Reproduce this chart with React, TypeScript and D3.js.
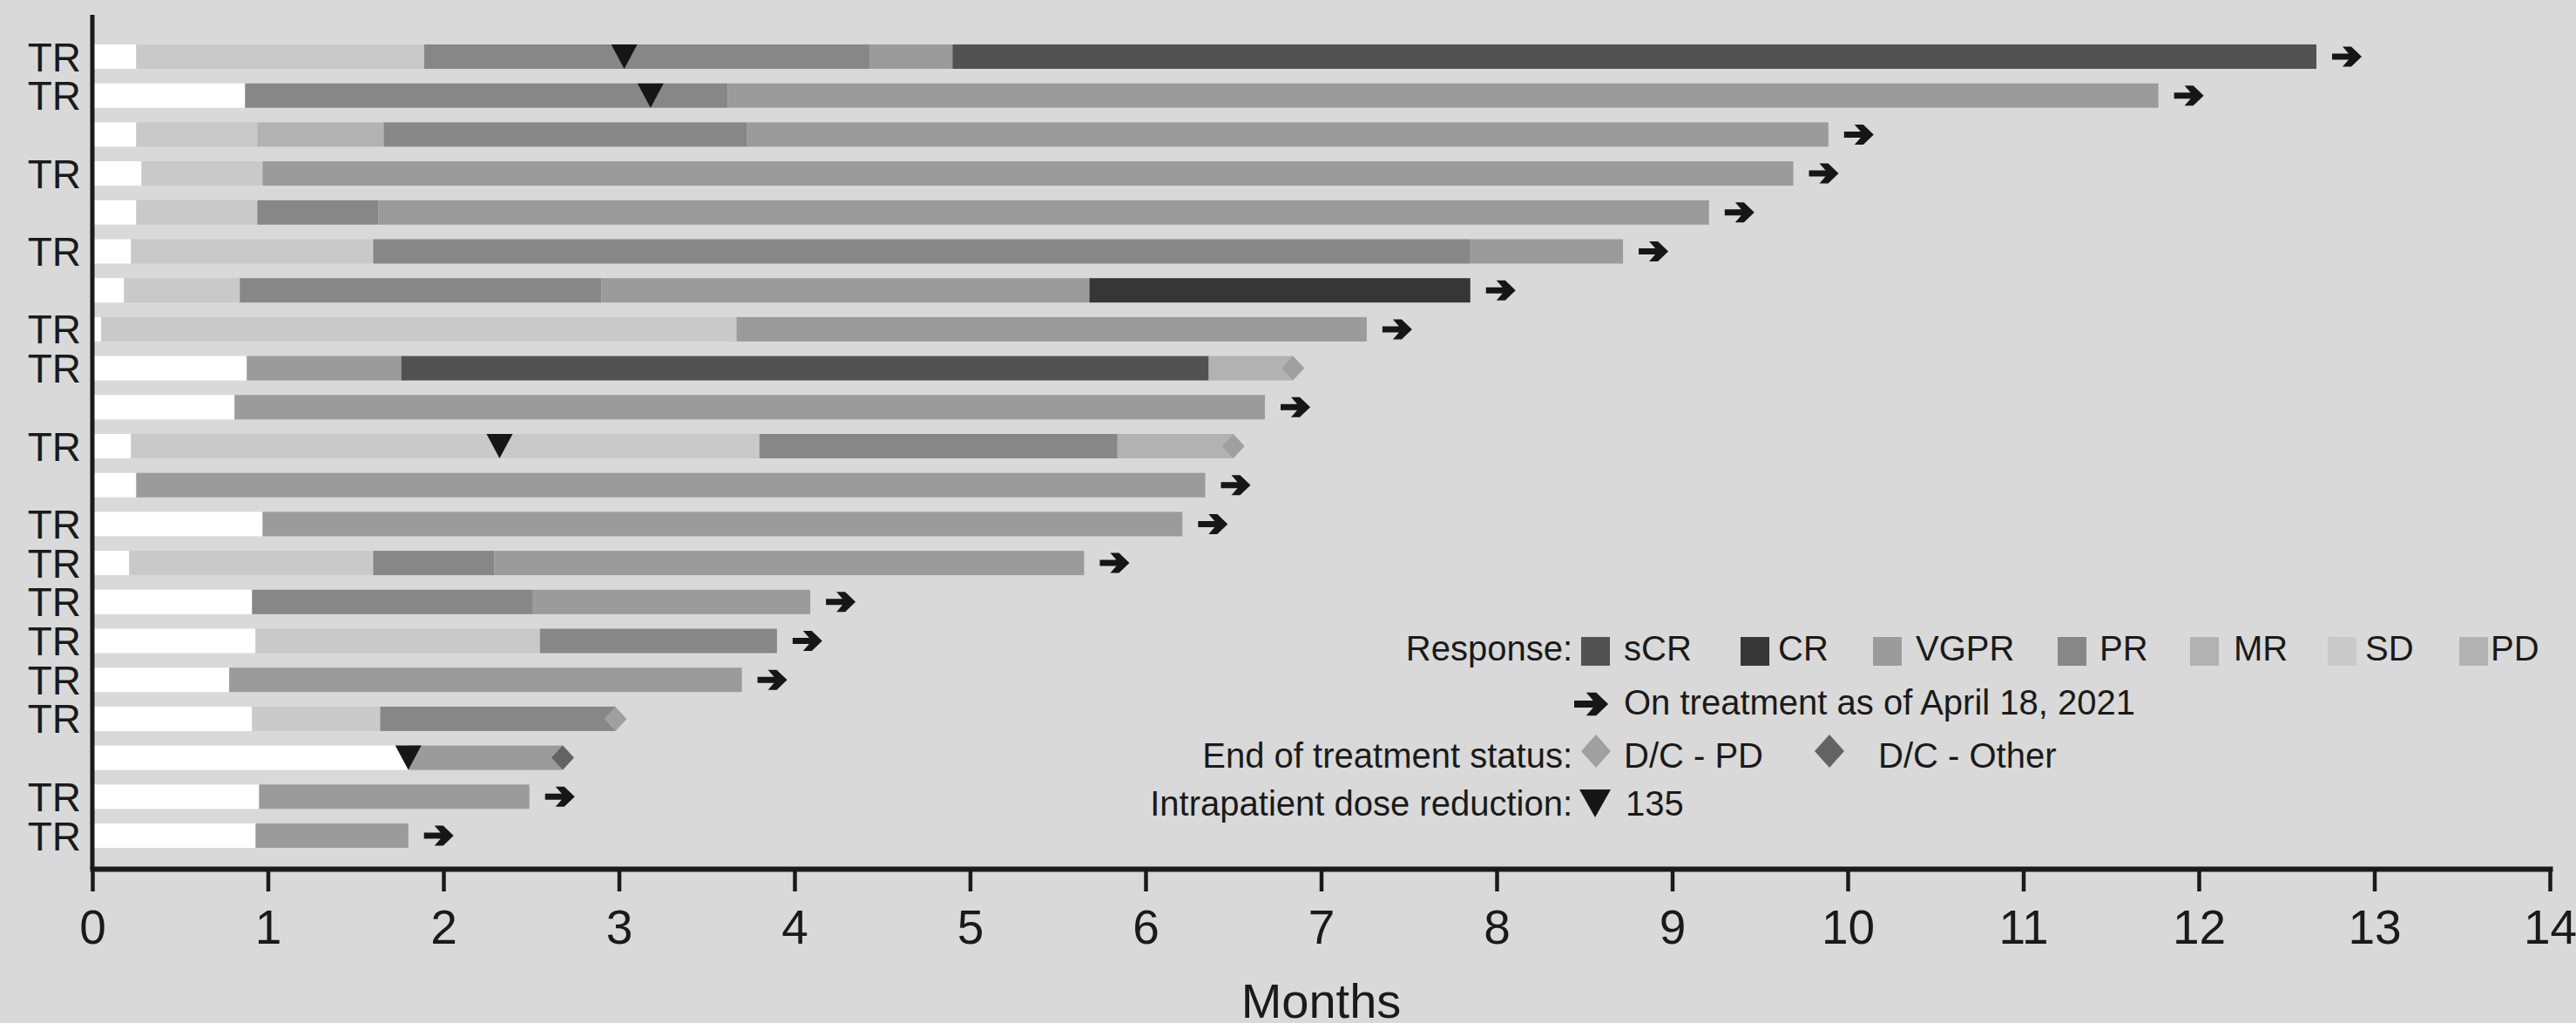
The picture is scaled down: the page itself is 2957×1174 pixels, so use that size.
// Swimmer plot: one bar per patient, split by response over time (months),
// with on-treatment arrows, end-of-treatment diamonds and dose-reduction triangles.
import React, { useEffect, useRef } from 'react';
import * as d3 from 'd3';

const WIDTH = 2957;
const HEIGHT = 1174;
const FONT = '"Liberation Sans", Arial, Helvetica, sans-serif';
const BG = '#d9d9d9';
const INK = '#1a1a1a';

// Row labels, top to bottom
const rowLabels = [
  'TR', 'TR', '', 'TR', '', 'TR', '', 'TR', 'TR', '', 'TR',
  '', 'TR', 'TR', 'TR', 'TR', 'TR', 'TR', '', 'TR', 'TR',
];

// Response state of each segment ('Pre' = before first assessment)
const segResponses = [
  ['Pre', 'SD', 'PR', 'VGPR', 'sCR'],
  ['Pre', 'PR', 'VGPR'],
  ['Pre', 'SD', 'MR', 'PR', 'VGPR'],
  ['Pre', 'SD', 'VGPR'],
  ['Pre', 'SD', 'PR', 'VGPR'],
  ['Pre', 'SD', 'PR', 'VGPR'],
  ['Pre', 'SD', 'PR', 'VGPR', 'CR'],
  ['Pre', 'SD', 'VGPR'],
  ['Pre', 'VGPR', 'sCR', 'PD'],
  ['Pre', 'VGPR'],
  ['Pre', 'SD', 'PR', 'PD'],
  ['Pre', 'VGPR'],
  ['Pre', 'VGPR'],
  ['Pre', 'SD', 'PR', 'VGPR'],
  ['Pre', 'PR', 'VGPR'],
  ['Pre', 'SD', 'PR'],
  ['Pre', 'VGPR'],
  ['Pre', 'SD', 'PR'],
  ['Pre', 'VGPR'],
  ['Pre', 'VGPR'],
  ['Pre', 'VGPR'],
];

// End (months) of each segment
const segEnds = [
  [0.25, 1.89, 4.43, 4.9, 12.67],
  [0.87, 3.62, 11.77],
  [0.25, 0.94, 1.66, 3.73, 9.89],
  [0.28, 0.97, 9.69],
  [0.25, 0.94, 1.63, 9.21],
  [0.22, 1.6, 7.85, 8.72],
  [0.18, 0.84, 2.9, 5.68, 7.85],
  [0.05, 3.67, 7.26],
  [0.88, 1.76, 6.36, 6.84],
  [0.81, 6.68],
  [0.22, 3.8, 5.84, 6.5],
  [0.25, 6.34],
  [0.97, 6.21],
  [0.21, 1.6, 2.29, 5.65],
  [0.91, 2.51, 4.09],
  [0.93, 2.55, 3.9],
  [0.78, 3.7],
  [0.91, 1.64, 2.98],
  [1.8, 2.68],
  [0.95, 2.49],
  [0.93, 1.8],
];

// 'on' = still on treatment, 'pd' = D/C - PD, 'other' = D/C - Other
const endStatus = [
  'on', 'on', 'on', 'on', 'on', 'on', 'on', 'on', 'pd', 'on', 'pd',
  'on', 'on', 'on', 'on', 'on', 'on', 'pd', 'other', 'on', 'on',
];

// Month of intrapatient dose reduction (null = none)
const doseReduction: (number | null)[] = [
  3.03, 3.18, null, null, null, null, null, null, null, null, 2.32,
  null, null, null, null, null, null, null, 1.8, null, null,
];

const responseKeys = ['sCR', 'CR', 'VGPR', 'PR', 'MR', 'SD', 'PD'];
const responseColors = ['#525252', '#363636', '#9b9b9b', '#878787', '#b2b2b2', '#c9c9c9', '#b2b2b2'];
const colorOf = (k: string) => (k === 'Pre' ? '#ffffff' : responseColors[responseKeys.indexOf(k)]);
const statusColors: Record<string, string> = { pd: '#a0a0a0', other: '#636363' };

// legend layout (swatch left edge, label left edge)
const legendSwatchX = [1815, 1998, 2150, 2362, 2514, 2672, 2823];
const legendTextX = [1864, 2041, 2199, 2410, 2564, 2715, 2859];

const arrowPath = (x0: number, cy: number, s = 1) =>
  [
    [0, -3.5], [19, -3.5], [12, -11.5], [22, -11.5], [34, 0],
    [22, 11.5], [12, 11.5], [19, 3.5], [0, 3.5],
  ]
    .map(([px, py], i) => `${i ? 'L' : 'M'}${x0 + px * s},${cy + py * s}`)
    .join('') + 'Z';

const diamondPath = (cx: number, cy: number, w: number, h: number) =>
  `M${cx},${cy - h / 2}L${cx + w / 2},${cy}L${cx},${cy + h / 2}L${cx - w / 2},${cy}Z`;

const trianglePath = (cx: number, top: number, w: number, h: number) =>
  `M${cx - w / 2},${top}L${cx + w / 2},${top}L${cx},${top + h}Z`;

const App = () => {
  const svgRef = useRef<SVGSVGElement>(null);

  useEffect(() => {
    const svg = d3.select(svgRef.current).attr('width', WIDTH).attr('height', HEIGHT);
    svg.selectAll('*').remove();
    svg.append('rect').attr('width', WIDTH).attr('height', HEIGHT).attr('fill', BG);

    const x = d3.scaleLinear().domain([0, 14]).range([106, 2927]);
    const y = d3
      .scaleBand<number>()
      .domain(d3.range(rowLabels.length))
      .range([51, 973])
      .paddingInner(0.374)
      .paddingOuter(0);
    const bw = y.bandwidth();

    // bars
    const bars = svg.append('g');
    segResponses.forEach((resp, i) => {
      const ends = segEnds[i];
      resp.forEach((r, j) => {
        const start = j === 0 ? 0 : ends[j - 1];
        bars
          .append('rect')
          .attr('x', x(start))
          .attr('y', y(i)!)
          .attr('width', x(ends[j]) - x(start))
          .attr('height', bw)
          .attr('fill', colorOf(r));
      });
    });

    // end markers
    const marks = svg.append('g');
    endStatus.forEach((st, i) => {
      const end = segEnds[i][segEnds[i].length - 1];
      const cy = y(i)! + bw / 2;
      if (st === 'on') {
        marks.append('path').attr('d', arrowPath(x(end) + 18, cy)).attr('fill', '#161616');
      } else {
        marks
          .append('path')
          .attr('d', diamondPath(x(end), cy, 26, bw))
          .attr('fill', statusColors[st]);
      }
    });

    // dose reductions
    doseReduction.forEach((m, i) => {
      if (m == null) return;
      marks
        .append('path')
        .attr('d', trianglePath(x(m), y(i)!, 30, bw))
        .attr('fill', '#161616');
    });

    // row labels
    svg
      .append('g')
      .selectAll('text')
      .data(rowLabels)
      .enter()
      .append('text')
      .attr('x', 93)
      .attr('y', (_d, i) => y(i)! + bw / 2)
      .attr('dy', '0.36em')
      .attr('text-anchor', 'end')
      .attr('font-family', FONT)
      .attr('font-size', 46)
      .attr('fill', INK)
      .text((d) => d);

    // axes
    svg
      .append('line')
      .attr('x1', 106)
      .attr('x2', 106)
      .attr('y1', 17)
      .attr('y2', 997)
      .attr('stroke', INK)
      .attr('stroke-width', 5);

    const ax = svg
      .append('g')
      .attr('transform', 'translate(0,997)')
      .call(d3.axisBottom(x).ticks(14).tickSize(26).tickSizeOuter(0));
    ax.attr('font-family', FONT);
    ax.select('.domain').attr('stroke', INK).attr('stroke-width', 6).attr('stroke-linecap', 'square');
    ax.selectAll('.tick line').attr('stroke', INK).attr('stroke-width', 4.5);
    ax.selectAll('.tick text')
      .attr('y', 86)
      .attr('dy', 0)
      .attr('font-size', 55)
      .attr('fill', INK);

    svg
      .append('text')
      .attr('x', x(7))
      .attr('y', 1168)
      .attr('text-anchor', 'middle')
      .attr('font-family', FONT)
      .attr('font-size', 56)
      .attr('fill', INK)
      .text('Months');

    // legend
    const lg = svg.append('g').attr('font-family', FONT).attr('font-size', 40).attr('fill', INK);
    const label = (t: string, by: number) =>
      lg.append('text').attr('x', 1805).attr('y', by).attr('text-anchor', 'end').text(t);
    const item = (t: string, tx: number, by: number) =>
      lg.append('text').attr('x', tx).attr('y', by).text(t);

    label('Response:', 758);
    responseKeys.forEach((k, i) => {
      lg.append('rect')
        .attr('x', legendSwatchX[i])
        .attr('y', 731)
        .attr('width', 33)
        .attr('height', 33)
        .attr('fill', responseColors[i]);
      item(k, legendTextX[i], 758);
    });

    lg.append('path').attr('d', arrowPath(1807, 808, 1.15)).attr('fill', '#161616');
    item('On treatment as of April 18, 2021', 1864, 820);

    label('End of treatment status:', 881);
    lg.append('path').attr('d', diamondPath(1832, 862, 34, 38)).attr('fill', statusColors.pd);
    item('D/C - PD', 1864, 881);
    lg.append('path').attr('d', diamondPath(2100, 862, 34, 38)).attr('fill', statusColors.other);
    item('D/C - Other', 2156, 881);

    label('Intrapatient dose reduction:', 936);
    lg.append('path').attr('d', trianglePath(1831, 906, 36, 32)).attr('fill', '#161616');
    item('135', 1866, 936);
  }, []);

  return (
    <svg
      ref={svgRef}
      style={{ position: 'absolute', left: 0, top: 0, display: 'block' }}
    />
  );
};

export default App;
